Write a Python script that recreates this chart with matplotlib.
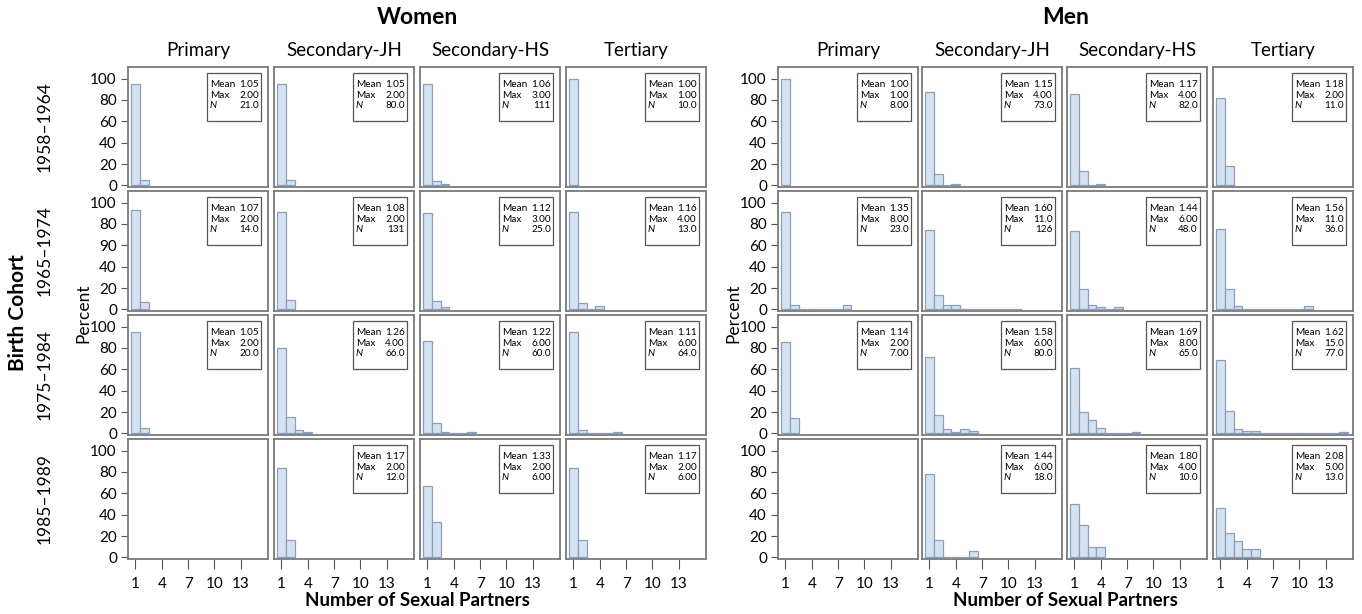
import numpy as np
import matplotlib
matplotlib.use("Agg")
import matplotlib.pyplot as plt
from matplotlib.patches import Rectangle

plt.rcParams['font.family'] = ['Lato', 'DejaVu Sans']

levels = ['Primary', 'Secondary-JH', 'Secondary-HS', 'Tertiary']
cohorts = ['1958–1964', '1965–1974', '1975–1984', '1985–1989']
xticks = [1, 4, 7, 10, 13]
yticks = [0, 20, 40, 60, 80, 100]
yticklabels = ['0', '20', '40', '60', '80', '100']
# the 1965-1974 women row really reads "90" where 60 should be
yticklabels_w2 = ['0', '20', '40', '90', '80', '100']

# percent of respondents with 1, 2, 3, ... partners (rows = cohorts, cols = levels)
women_pct = [
    [[95.2, 4.8], [95.0, 5.0], [94.6, 4.5, 0.9], [100.0]],
    [[92.9, 7.1], [91.6, 8.4], [90.0, 8.0, 2.0], [91.0, 6.0, 0, 3.0]],
    [[95.0, 5.0], [80.3, 15.2, 3.0, 1.5], [86.7, 10.0, 1.7, 0, 0, 1.7],
     [95.3, 3.1, 0, 0, 0, 1.6]],
    [[], [83.3, 16.7], [66.7, 33.3], [83.3, 16.7]],
]
men_pct = [
    [[100.0], [87.7, 11.0, 0, 1.4], [85.4, 13.4, 0, 1.2], [81.8, 18.2]],
    [[91.3, 4.3, 0, 0, 0, 0, 0, 4.3],
     [74.6, 13.5, 4.0, 4.0, 0.8, 0.8, 0, 0.8, 0.8, 0, 0.8],
     [72.9, 18.8, 4.2, 2.1, 0, 2.1],
     [75.0, 19.4, 2.8, 0, 0, 0, 0, 0, 0, 0, 2.8]],
    [[85.7, 14.3], [71.3, 17.5, 3.8, 1.3, 3.8, 2.5],
     [61.5, 20.0, 12.3, 4.6, 0, 0, 0, 1.5],
     [68.8, 20.8, 3.9, 2.6, 2.6, 0, 0, 0, 0, 0, 0, 0, 0, 0, 1.3]],
    [[], [77.8, 16.7, 0, 0, 0, 5.6], [50.0, 30.0, 10.0, 10.0],
     [46.2, 23.1, 15.4, 7.7, 7.7]],
]

# (Mean, Max, N) as printed in the boxes
women_stats = [
    [('1.05', '2.00', '21.0'), ('1.05', '2.00', '80.0'), ('1.06', '3.00', '111'), ('1.00', '1.00', '10.0')],
    [('1.07', '2.00', '14.0'), ('1.08', '2.00', '131'), ('1.12', '3.00', '25.0'), ('1.16', '4.00', '13.0')],
    [('1.05', '2.00', '20.0'), ('1.26', '4.00', '66.0'), ('1.22', '6.00', '60.0'), ('1.11', '6.00', '64.0')],
    [None, ('1.17', '2.00', '12.0'), ('1.33', '2.00', '6.00'), ('1.17', '2.00', '6.00')],
]
men_stats = [
    [('1.00', '1.00', '8.00'), ('1.15', '4.00', '73.0'), ('1.17', '4.00', '82.0'), ('1.18', '2.00', '11.0')],
    [('1.35', '8.00', '23.0'), ('1.60', '11.0', '126'), ('1.44', '6.00', '48.0'), ('1.56', '11.0', '36.0')],
    [('1.14', '2.00', '7.00'), ('1.58', '6.00', '80.0'), ('1.69', '8.00', '65.0'), ('1.62', '15.0', '77.0')],
    [None, ('1.44', '6.00', '18.0'), ('1.80', '4.00', '10.0'), ('2.08', '5.00', '13.0')],
]

W, H = 1362, 614
fig = plt.figure(figsize=(W / 100, H / 100), dpi=100)

BAR_FILL = '#d5e2f2'
BAR_EDGE = '#8a9fbe'
FRAME = '#7a7a7a'

row_top = [67, 191, 315, 439]
row_h = 120
women_left = [128, 274, 420, 566]
men_left = [778, 922, 1067, 1213]
panel_w = 140


def px_axes(x, y_top, w, h):
    return fig.add_axes([x / W, 1 - (y_top + h) / H, w / W, h / H])


def draw_grid(lefts, pct, stats, title, ylab_x, row_labels):
    for r in range(4):
        for c in range(4):
            ax = px_axes(lefts[c], row_top[r], panel_w, row_h)
            vals = pct[r][c]
            if vals:
                bins = np.arange(1, len(vals) + 1)
                ax.bar(bins, vals, width=1.0, color=BAR_FILL, edgecolor=BAR_EDGE,
                       linewidth=0.9, zorder=2)
            ax.set_xlim(0.15, 16.1)
            ax.set_ylim(-1.5, 110.8)
            for s in ax.spines.values():
                s.set_color(FRAME)
                s.set_linewidth(1.3)
            ax.tick_params(colors='#555555', labelcolor='black', labelsize=11)
            if c == 0:
                ax.set_yticks(yticks)
                if title == 'Women' and r == 1:
                    ax.set_yticklabels(yticklabels_w2)
                else:
                    ax.set_yticklabels(yticklabels)
                ax.tick_params(axis='y', length=5, width=0.8, pad=3)
            else:
                ax.set_yticks([])
            if r == 3:
                ax.set_xticks(xticks)
                ax.tick_params(axis='x', length=7, width=0.8, pad=6)
            else:
                ax.set_xticks([])
            st = stats[r][c]
            if st is not None:
                ax.add_patch(Rectangle((0.562, 0.546), 0.388, 0.404, transform=ax.transAxes,
                                       facecolor='white', edgecolor='#555555',
                                       linewidth=0.9, zorder=3))
                for yy, lab, v, style in [(0.855, 'Mean', st[0], 'normal'),
                                          (0.765, 'Max', st[1], 'normal'),
                                          (0.675, 'N', st[2], 'italic')]:
                    ax.text(0.585, yy, lab, transform=ax.transAxes, fontsize=7.2,
                            style=style, ha='left', va='center', zorder=4)
                    ax.text(0.935, yy, v, transform=ax.transAxes, fontsize=7.2,
                            ha='right', va='center', zorder=4)
            if r == 0:
                ax.set_title(levels[c], fontsize=13.5, pad=8)

    cx = (lefts[0] + lefts[3] + panel_w) / 2
    fig.text(cx / W, 1 - 17 / H, title, fontsize=16.5, fontweight='bold',
             ha='center', va='center')
    fig.text(cx / W, 1 - 601 / H, 'Number of Sexual Partners', fontsize=13.5,
             fontweight='bold', ha='center', va='center')
    fig.text(ylab_x / W, 1 - 313 / H, 'Percent', fontsize=12.5, rotation=90,
             ha='center', va='center')
    if row_labels:
        for r in range(4):
            fig.text(45 / W, 1 - (row_top[r] + row_h / 2) / H, cohorts[r],
                     fontsize=12.5, rotation=90, ha='center', va='center')
        fig.text(18 / W, 1 - 313 / H, 'Birth Cohort', fontsize=15,
                 fontweight='bold', rotation=90, ha='center', va='center')


draw_grid(women_left, women_pct, women_stats, 'Women', 83, True)
draw_grid(men_left, men_pct, men_stats, 'Men', 733, False)

fig.savefig('out.png', dpi=100)
